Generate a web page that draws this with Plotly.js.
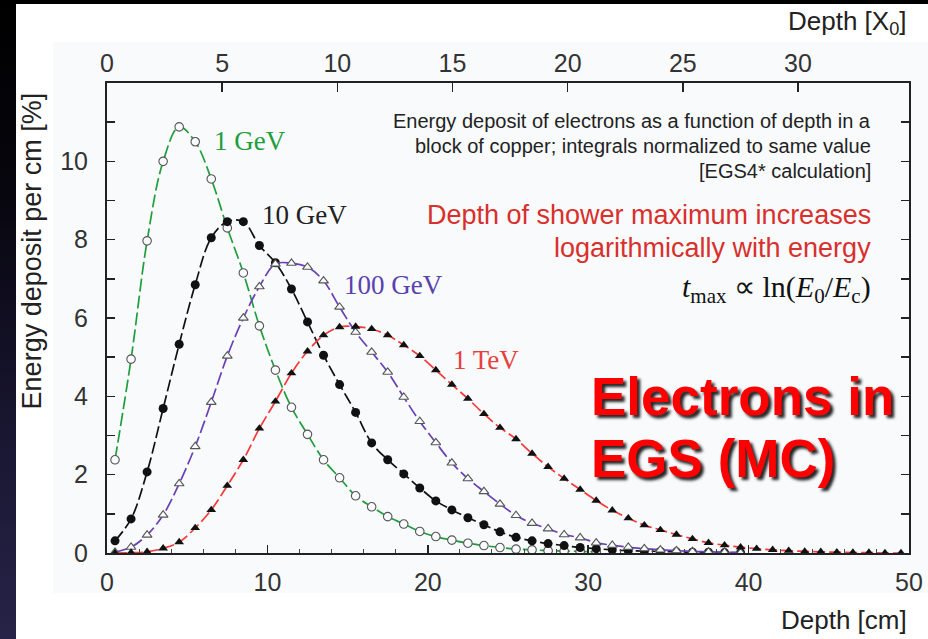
<!DOCTYPE html>
<html>
<head>
<meta charset="utf-8">
<script src="https://cdn.plot.ly/plotly-3.0.1.min.js"></script>
<style>
  html, body { margin:0; padding:0; background:#ffffff; }
  #wrap { position:relative; width:928px; height:639px; background:#ffffff; overflow:hidden; }
  #topstrip { position:absolute; left:0; top:0; width:928px; height:4px; background:#000; }
  #leftstrip { position:absolute; left:0; top:0; width:16px; height:639px;
    background:linear-gradient(to bottom, #000000 0%, #07060e 30%, #1a1733 70%, #272348 100%); }
  #panel { position:absolute; left:53px; top:42px; width:875px; height:551px; background:#f8fafc; }
  #chart { position:absolute; left:0; top:0; width:928px; height:639px; }
</style>
</head>
<body>
<div id="wrap">
  <div id="topstrip"></div>
  <div id="leftstrip"></div>
  <div id="panel"></div>
  <div id="chart"></div>
</div>
<script>
// ---- data ----
const depthCm = [0.5,1.5,2.5,3.5,4.5,5.5,6.5,7.5,8.5,9.5,10.5,11.5,12.5,13.5,14.5,15.5,16.5,17.5,18.5,19.5,
                 20.5,21.5,22.5,23.5,24.5,25.5,26.5,27.5,28.5,29.5,30.5,31.5,32.5,33.5,34.5,35.5,36.5,37.5,38.5,39.5,
                 40.5,41.5,42.5,43.5,44.5,45.5,46.5,47.5,48.5,49.5];

const e1GeV = [2.38,4.95,7.97,10.0,10.88,10.5,9.55,8.3,7.15,5.8,4.67,3.72,3.03,2.38,1.92,1.46,1.18,0.93,0.74,0.55,
               0.42,0.33,0.25,0.19,0.14,0.1,0.08,0.06,0.05,0.04,0.03];
const e10GeV = [0.31,0.87,2.07,3.69,5.33,6.85,8.05,8.46,8.46,7.85,7.41,6.74,5.9,5.05,4.3,3.59,2.81,2.38,2.02,1.66,
                1.33,1.1,0.9,0.72,0.54,0.4,0.31,0.24,0.19,0.14,0.11,0.08,0.06,0.05,0.04,0.03,0.02,0.02,0.01,0.01];
const e100GeV = [0.02,0.15,0.46,0.97,1.77,2.72,3.85,5.03,6.0,6.8,7.38,7.4,7.3,6.95,6.28,5.64,5.13,4.62,3.98,3.36,
                 2.82,2.3,1.9,1.57,1.25,0.96,0.76,0.62,0.47,0.39,0.26,0.2,0.15,0.11,0.08,0.06,0.04,0.03,0.02,0.01];
const e1TeV = [0.0,0.01,0.03,0.12,0.28,0.64,1.1,1.72,2.38,3.18,3.87,4.59,5.15,5.56,5.77,5.78,5.72,5.56,5.31,5.03,
               4.67,4.3,3.94,3.55,3.2,2.91,2.54,2.2,1.9,1.62,1.34,1.09,0.89,0.71,0.59,0.47,0.36,0.26,0.2,0.15,
               0.11,0.08,0.06,0.04,0.03,0.02,0.01,0.01,0.0,0.0];

const seriesNames = ["1 GeV","10 GeV","100 GeV","1 TeV"];
const cmTicks = [0,10,20,30,40,50];
const cmTickText = ["0","10","20","30","40","50"];
const x0Ticks = [0,5,10,15,20,25,30];
const x0TickText = ["0","5","10","15","20","25","30"];
const yTicks = [0,2,4,6,8,10];
const yTickText = ["0","2","4","6","8","10"];
const radLengthCm = 1.436; // copper X0 in cm

// ---- styles ----
const sans = "Liberation Sans, Arial, sans-serif";
const serif = "Liberation Serif, Times New Roman, serif";
const bg = "#f8fafc";

function trace(y, name, lineColor, dash, marker) {
  return {
    x: depthCm.slice(0, y.length), y: y, name: name,
    type: "scatter", mode: "lines+markers",
    line: {color: lineColor, width: 1.7, dash: dash, shape: "spline", smoothing: 1},
    marker: marker, showlegend: false, hoverinfo: "skip"
  };
}

const traces = [
  trace(e1GeV, seriesNames[0], "#1f9e3c", "13px,4px",
        {symbol: "circle", size: 8.5, color: bg, line: {color: "#555", width: 1.1}}),
  trace(e10GeV, seriesNames[1], "#111111", "12px,4px",
        {symbol: "circle", size: 9, color: "#111", line: {color: "#111", width: 0}}),
  trace(e100GeV, seriesNames[2], "#6a3fb8", "13px,4px",
        {symbol: "triangle-up", size: 8.5, color: bg, line: {color: "#555", width: 1.1}}),
  trace(e1TeV, seriesNames[3], "#f23a3a", "12px,4px",
        {symbol: "triangle-up", size: 8.5, color: "#111", line: {color: "#111", width: 0}}),
  // empty trace so that the radiation-length axis on top is drawn
  {x: [], y: [], xaxis: "x2", yaxis: "y", type: "scatter", mode: "markers", showlegend: false, hoverinfo: "skip"}
];

const tickFont = {family: sans, size: 25, color: "#333"};

const layout = {
  width: 928, height: 639,
  margin: {l: 107, r: 19, t: 83, b: 86, pad: 0},
  paper_bgcolor: "rgba(0,0,0,0)", plot_bgcolor: "rgba(0,0,0,0)",
  showlegend: false,
  xaxis: {
    range: [0, 50], tickvals: cmTicks, ticktext: cmTickText,
    ticks: "inside", ticklen: 8, tickwidth: 1.5, tickcolor: "#222",
    showline: true, linecolor: "#222", linewidth: 2, mirror: true,
    showgrid: false, zeroline: false, tickfont: tickFont, ticklabelstandoff: 6,
    minor: {tick0: 0, dtick: 2, ticks: "inside", ticklen: 4, tickwidth: 1, tickcolor: "#444", showgrid: false}
  },
  xaxis2: {
    overlaying: "x", side: "top", anchor: "y",
    range: [0, 50 / radLengthCm], tickvals: x0Ticks, ticktext: x0TickText,
    ticks: "inside", ticklen: 9, tickwidth: 1.5, tickcolor: "#222",
    showline: false, showgrid: false, zeroline: false, tickfont: tickFont, ticklabelstandoff: 5
  },
  yaxis: {
    range: [0, 12], tickvals: yTicks, ticktext: yTickText,
    ticks: "inside", ticklen: 8, tickwidth: 1.5, tickcolor: "#222",
    showline: true, linecolor: "#222", linewidth: 2, mirror: "ticks",
    showgrid: false, zeroline: false, tickfont: tickFont, ticklabelstandoff: 12,
    minor: {tick0: 1, dtick: 2, ticks: "inside", ticklen: 8, tickwidth: 1.5, tickcolor: "#222", showgrid: false}
  },
  annotations: [
    // series labels
    {xref: "x", yref: "y", x: 8.9, y: 10.51, text: "1 GeV", showarrow: false,
     font: {family: serif, size: 27, color: "#1f9e3c"}},
    {xref: "x", yref: "y", x: 12.31, y: 8.64, text: "10 GeV", showarrow: false,
     font: {family: serif, size: 27, color: "#222"}},
    {xref: "x", yref: "y", x: 17.86, y: 6.83, text: "100 GeV", showarrow: false,
     font: {family: serif, size: 27, color: "#5a42ac"}},
    {xref: "x", yref: "y", x: 23.63, y: 4.94, text: "1 TeV", showarrow: false,
     font: {family: serif, size: 27, color: "#e8403c"}},
    // description block
    {xref: "paper", yref: "paper", x: 0.955, y: 0.919, xanchor: "right", yanchor: "middle", showarrow: false,
     text: "Energy deposit of electrons as a function of depth in a",
     font: {family: sans, size: 20, color: "#222"}},
    {xref: "paper", yref: "paper", x: 0.955, y: 0.866, xanchor: "right", yanchor: "middle", showarrow: false,
     text: "block of copper; integrals normalized to same value",
     font: {family: sans, size: 20, color: "#222"}},
    {xref: "paper", yref: "paper", x: 0.955, y: 0.813, xanchor: "right", yanchor: "middle", showarrow: false,
     text: "[EGS4* calculation]",
     font: {family: sans, size: 20, color: "#222"}},
    {xref: "paper", yref: "paper", x: 0.955, y: 0.719, xanchor: "right", yanchor: "middle", showarrow: false,
     text: "Depth of shower maximum increases",
     font: {family: sans, size: 27, color: "#d8302c"}},
    {xref: "paper", yref: "paper", x: 0.955, y: 0.649, xanchor: "right", yanchor: "middle", showarrow: false,
     text: "logarithmically with energy",
     font: {family: sans, size: 27, color: "#d8302c"}},
    {xref: "paper", yref: "paper", x: 0.955, y: 0.562, xanchor: "right", yanchor: "middle", showarrow: false,
     text: "<i>t</i><sub>max</sub> ∝ ln(<i>E</i><sub>0</sub>/<i>E</i><sub>c</sub>)",
     font: {family: serif, size: 30, color: "#111"}},
    // big label
    {xref: "paper", yref: "paper", x: 0.601, y: 0.334, xanchor: "left", yanchor: "middle", showarrow: false,
     text: "<b>Electrons in</b>",
     font: {family: sans, size: 53, color: "#ff0000", shadow: "3px 3px 3px rgba(0,0,0,0.85)"}},
    {xref: "paper", yref: "paper", x: 0.601, y: 0.202, xanchor: "left", yanchor: "middle", showarrow: false,
     text: "<b>EGS (MC)</b>",
     font: {family: sans, size: 53, color: "#ff0000", shadow: "3px 3px 3px rgba(0,0,0,0.85)"}},
    // axis titles
    {xref: "paper", yref: "paper", x: 1.0, y: 1.128, xanchor: "right", yanchor: "middle", showarrow: false,
     text: "Depth [X<sub>0</sub>]", font: {family: sans, size: 26, color: "#222"}},
    {xref: "paper", yref: "paper", x: 1.0, y: -0.142, xanchor: "right", yanchor: "middle", showarrow: false,
     text: "Depth [cm]", font: {family: sans, size: 26, color: "#222"}},
    {xref: "paper", yref: "paper", x: -0.094, y: 0.643, xanchor: "center", yanchor: "middle", showarrow: false,
     textangle: -90, text: "Energy deposit per cm [%]", font: {family: sans, size: 27, color: "#222"}}
  ]
};

Plotly.newPlot("chart", traces, layout, {staticPlot: true, displayModeBar: false});
</script>
</body>
</html>
